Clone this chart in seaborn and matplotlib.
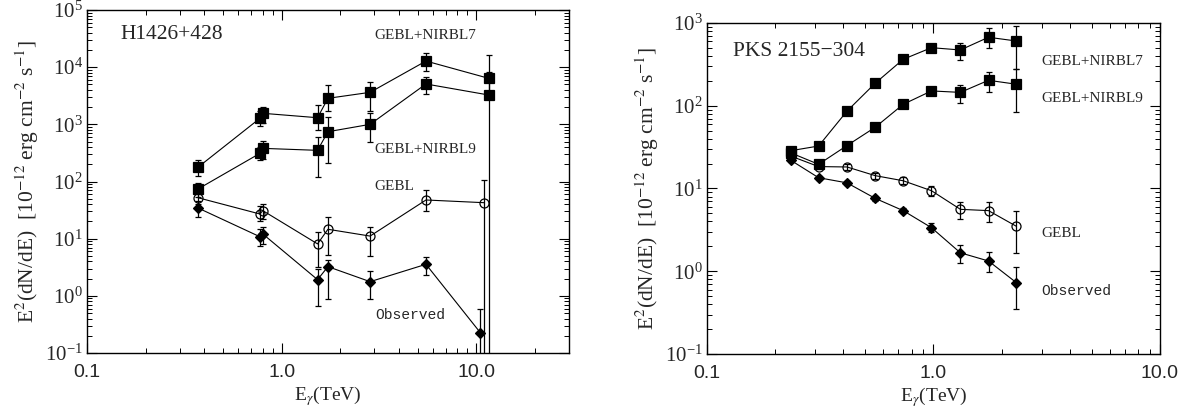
import numpy as np
import pandas as pd
import matplotlib
matplotlib.use('Agg')
import matplotlib.pyplot as plt
import seaborn as sns
from matplotlib.ticker import LogLocator, NullFormatter, FixedLocator, FixedFormatter

## DATA
# H1426+428 panel
x_h = [0.372, 0.774, 0.80, 1.53, 1.73, 2.85, 5.52, 11.6]
x_h_gebl = [0.372, 0.774, 0.80, 1.53, 1.73, 2.85, 5.52, 11.0]
x_h_obs = [0.372, 0.774, 0.80, 1.53, 1.73, 2.85, 5.52, 10.5]
h_n7 = [178, 1276, 1560, 1306, 2853, 3630, 12800, 6380]
h_n7_lo = [125, 930, 1050, 800, 1730, 1730, 8570, 3500]
h_n7_hi = [238, 1700, 2040, 2180, 4880, 5570, 17500, 16300]
h_n9 = [74, 311, 380, 351, 743, 1000, 5080, 3260]
h_n9_lo = [54, 238, 250, 121, 214, 485, 3350, 0.001]
h_n9_hi = [95, 407, 518, 608, 1328, 1560, 6800, 8100]
h_gebl = [52, 27, 31, 8.1, 14.6, 11.1, 47.5, 42.6]
h_gebl_lo = [40, 20.6, 22, 3.2, 5.2, 5.0, 31, 0.001]
h_gebl_hi = [65, 38, 40, 13.3, 24, 15.9, 70, 106]
h_obs = [34.4, 10.8, 12.1, 1.92, 3.24, 1.77, 3.56, 0.227]
h_obs_lo = [24, 7.3, 8, 0.66, 0.89, 0.87, 2.3, 0.001]
h_obs_hi = [45, 14.8, 16, 2.9, 4.2, 2.75, 4.7, 0.58]

# PKS 2155-304 panel
x_p = [0.234, 0.311, 0.415, 0.553, 0.735, 0.98, 1.315, 1.75, 2.32]
p_n7 = [28.6, 32.6, 86, 187, 364, 503, 472, 672, 606]
p_n7_lo = [26.5, 30.5, 81, 177, 345, 450, 357, 494, 278]
p_n7_hi = [31, 35, 91, 197, 384, 560, 578, 863, 927]
p_n9 = [27, 19.6, 33, 54.9, 104, 151, 145, 203, 182]
p_n9_lo = [25.5, 18.5, 31, 52, 98, 137, 107, 146, 85]
p_n9_hi = [28.5, 20.8, 35, 58, 110, 165, 178, 258, 278]
p_gebl = [24.7, 18.4, 18.2, 14.3, 12.4, 9.4, 5.6, 5.4, 3.5]
p_gebl_lo = [23.5, 17.2, 16.8, 13.1, 11.2, 8.2, 4.25, 3.9, 1.65]
p_gebl_hi = [26, 19.6, 19.6, 15.5, 13.6, 10.6, 6.93, 6.9, 5.4]
p_obs = [22, 13.5, 11.7, 7.6, 5.4, 3.36, 1.67, 1.33, 0.73]
p_obs_lo = [21, 12.8, 11, 7.1, 5.0, 2.95, 1.27, 0.97, 0.35]
p_obs_hi = [23, 14.2, 12.4, 8.1, 5.8, 3.8, 2.07, 1.72, 1.135]

## STYLE
sns.set_style('ticks')
plt.rcParams['font.family'] = ['Liberation Serif', 'DejaVu Serif']
plt.rcParams['mathtext.fontset'] = 'stix'
plt.rcParams['axes.linewidth'] = 1.0

fig = plt.figure(figsize=(12.04, 4.12), dpi=100)
ax1 = fig.add_axes([0.0723, 0.1432, 0.4003, 0.8325])
ax2 = fig.add_axes([0.5872, 0.1408, 0.3762, 0.8034])


def draw_series(ax, x, y, lo, hi, marker, filled, ms):
    df = pd.DataFrame({'E': x, 'F': y})
    y = np.array(y)
    yerr = [y - np.array(lo), np.array(hi) - y]
    ax.errorbar(x, y, yerr=yerr, fmt='none', ecolor='black', elinewidth=0.9,
                capsize=2, capthick=0.9, zorder=2)
    sns.lineplot(data=df, x='E', y='F', ax=ax, color='black', linewidth=0.8,
                 marker=marker, markersize=ms, estimator=None, sort=False,
                 markerfacecolor='black' if filled else 'none',
                 markeredgecolor='black', markeredgewidth=0.9, zorder=3)


def style_axes(ax, xlim, ylim, xticks):
    ax.set_xscale('log')
    ax.set_yscale('log')
    ax.set_xlim(*xlim)
    ax.set_ylim(*ylim)
    ax.xaxis.set_major_locator(FixedLocator(xticks))
    ax.xaxis.set_major_formatter(FixedFormatter(['%.1f' % t for t in xticks]))
    ax.xaxis.set_minor_locator(LogLocator(base=10, subs=np.arange(2, 10), numticks=20))
    ax.xaxis.set_minor_formatter(NullFormatter())
    ax.yaxis.set_major_locator(LogLocator(base=10, numticks=20))
    ax.yaxis.set_minor_locator(LogLocator(base=10, subs=np.arange(2, 10), numticks=20))
    ax.yaxis.set_minor_formatter(NullFormatter())
    ax.tick_params(which='both', direction='in', top=True, right=True, color='black')
    ax.tick_params(which='major', length=7, width=0.8)
    ax.tick_params(which='minor', length=3.5, width=0.7)
    ax.tick_params(axis='y', labelsize=15, pad=3)
    ax.tick_params(axis='x', labelsize=14, pad=8)
    for lab in ax.get_xticklabels():
        lab.set_family('Liberation Sans')
    ax.set_xlabel(r'E$_\gamma$(TeV)', fontsize=14, labelpad=2)
    ax.set_ylabel(r'E$^2$(dN/dE)  [10$^{-12}$ erg cm$^{-2}$ s$^{-1}$]', fontsize=15.5, labelpad=3)
    for s in ax.spines.values():
        s.set_color('black')


## LEFT: H1426+428
draw_series(ax1, x_h, h_n7, h_n7_lo, h_n7_hi, 's', True, 6.5)
draw_series(ax1, x_h, h_n9, h_n9_lo, h_n9_hi, 's', True, 6.5)
draw_series(ax1, x_h_gebl, h_gebl, h_gebl_lo, h_gebl_hi, 'o', False, 6.5)
draw_series(ax1, x_h_obs, h_obs, h_obs_lo, h_obs_hi, 'D', True, 5)
style_axes(ax1, (0.1, 30), (0.1, 1e5), [0.1, 1.0, 10.0])
ax1.text(0.07, 0.929, 'H1426+428', transform=ax1.transAxes, fontsize=15.5, va='center')
ax1.text(0.597, 0.927, 'GEBL+NIRBL7', transform=ax1.transAxes, fontsize=11, va='center')
ax1.text(0.597, 0.592, 'GEBL+NIRBL9', transform=ax1.transAxes, fontsize=11, va='center')
ax1.text(0.597, 0.485, 'GEBL', transform=ax1.transAxes, fontsize=11, va='center')
ax1.text(0.597, 0.111, 'Observed', transform=ax1.transAxes, fontsize=10.5, va='center',
         family='Liberation Mono')

## RIGHT: PKS 2155-304
draw_series(ax2, x_p, p_n7, p_n7_lo, p_n7_hi, 's', True, 6.5)
draw_series(ax2, x_p, p_n9, p_n9_lo, p_n9_hi, 's', True, 6.5)
draw_series(ax2, x_p, p_gebl, p_gebl_lo, p_gebl_hi, 'o', False, 6.5)
draw_series(ax2, x_p, p_obs, p_obs_lo, p_obs_hi, 'D', True, 5)
style_axes(ax2, (0.1, 10), (0.1, 1e3), [0.1, 1.0, 10.0])
ax2.text(0.058, 0.913, 'PKS 2155\u2212304', transform=ax2.transAxes, fontsize=15.5, va='center')
ax2.text(0.739, 0.885, 'GEBL+NIRBL7', transform=ax2.transAxes, fontsize=11, va='center')
ax2.text(0.739, 0.772, 'GEBL+NIRBL9', transform=ax2.transAxes, fontsize=11, va='center')
ax2.text(0.739, 0.365, 'GEBL', transform=ax2.transAxes, fontsize=11, va='center')
ax2.text(0.739, 0.190, 'Observed', transform=ax2.transAxes, fontsize=10.5, va='center',
         family='Liberation Mono')

fig.savefig('out.png', dpi=100)
